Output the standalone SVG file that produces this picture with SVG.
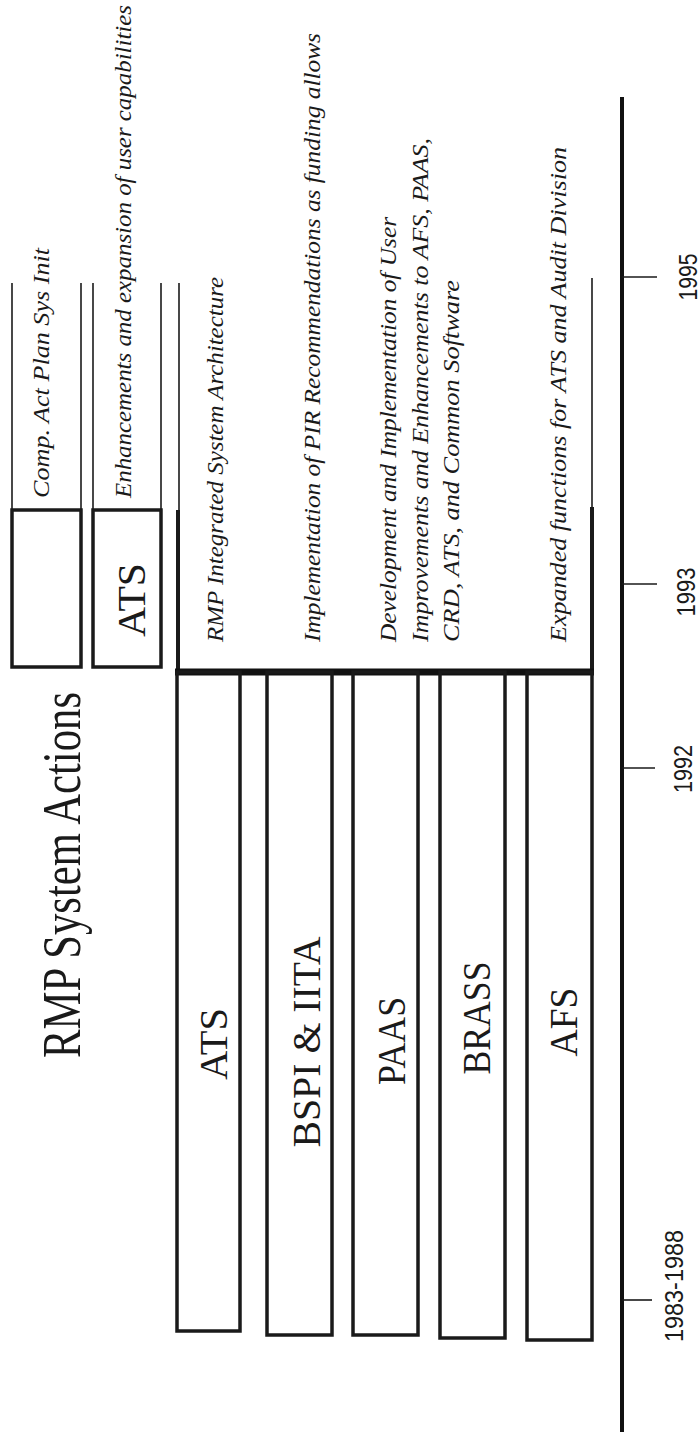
<svg xmlns="http://www.w3.org/2000/svg" width="700" height="1444" viewBox="0 0 700 1444">
<style>
.bg{fill:#ffffff}
.box{fill:none;stroke:#1a1a1a;stroke-width:3.5}
.thin{fill:none;stroke:#1a1a1a;stroke-width:1.6}
.thick{fill:none;stroke:#1a1a1a;stroke-width:4}
.base{fill:none;stroke:#111;stroke-width:7}
.axis{fill:none;stroke:#111;stroke-width:4}
.tick{fill:none;stroke:#1a1a1a;stroke-width:1.6}
.title{font-family:"Liberation Serif","Times New Roman",serif;font-size:55px;fill:#1a1a1a}
.lbl{font-family:"Liberation Serif","Times New Roman",serif;font-size:40px;fill:#1a1a1a}
.it{font-family:"Liberation Serif","Times New Roman",serif;font-size:24px;font-style:italic;fill:#1a1a1a}
.yr{font-family:"Liberation Sans",Arial,sans-serif;font-size:25px;fill:#1a1a1a}
</style>
<rect class="bg" x="0" y="0" width="700" height="1444"/>

<g id="title">
<text class="title" transform="translate(80,1058) rotate(-90)" textLength="366" lengthAdjust="spacingAndGlyphs">RMP System Actions</text>
</g>

<g id="row-comp">
<line class="thin" x1="12" y1="283" x2="12" y2="510"/>
<line class="thin" x1="81" y1="283" x2="81" y2="510"/>
<rect class="box" x="12" y="510" width="69" height="157"/>
<text class="it" transform="translate(49,498) rotate(-90)" textLength="250" lengthAdjust="spacingAndGlyphs">Comp. Act Plan Sys Init</text>
</g>

<g id="row-ats-enh">
<line class="thin" x1="93" y1="283" x2="93" y2="510"/>
<line class="thin" x1="161" y1="283" x2="161" y2="510"/>
<rect class="box" x="93" y="510" width="68" height="157"/>
<text class="lbl" transform="translate(145,600) rotate(-90)" text-anchor="middle" textLength="74" lengthAdjust="spacingAndGlyphs">ATS</text>
<text class="it" transform="translate(131,498) rotate(-90)" textLength="493" lengthAdjust="spacingAndGlyphs">Enhancements and expansion of user capabilities</text>
</g>

<g id="integrated">
<line class="thin" x1="179" y1="283" x2="179" y2="510"/>
<line class="thin" x1="592" y1="278" x2="592" y2="507"/>
<line class="thick" x1="178" y1="510" x2="178" y2="672"/>
<line class="thick" x1="592" y1="507" x2="592" y2="672"/>
<line class="base" x1="175" y1="672" x2="594" y2="672"/>
<text class="it" transform="translate(223,642) rotate(-90)" textLength="365" lengthAdjust="spacingAndGlyphs">RMP Integrated System Architecture</text>
<text class="it" transform="translate(320,642) rotate(-90)" textLength="609" lengthAdjust="spacingAndGlyphs">Implementation of PIR Recommendations as funding allows</text>
<text class="it" transform="translate(396,642) rotate(-90)" textLength="425" lengthAdjust="spacingAndGlyphs">Development and Implementation of User</text>
<text class="it" transform="translate(428,642) rotate(-90)" textLength="504" lengthAdjust="spacingAndGlyphs">Improvements and Enhancements to AFS, PAAS,</text>
<text class="it" transform="translate(459,642) rotate(-90)" textLength="362" lengthAdjust="spacingAndGlyphs">CRD, ATS, and Common Software</text>
<text class="it" transform="translate(566,642) rotate(-90)" textLength="495" lengthAdjust="spacingAndGlyphs">Expanded functions for ATS and Audit Division</text>
</g>

<g id="bar-ats">
<rect class="box" x="177" y="672" width="63" height="659"/>
<text class="lbl" transform="translate(227,1044) rotate(-90)" text-anchor="middle" textLength="72" lengthAdjust="spacingAndGlyphs">ATS</text>
</g>
<g id="bar-bspi">
<rect class="box" x="267" y="672" width="65" height="663"/>
<text class="lbl" transform="translate(320,1042) rotate(-90)" text-anchor="middle" textLength="211" lengthAdjust="spacingAndGlyphs">BSPI &amp; IITA</text>
</g>
<g id="bar-paas">
<rect class="box" x="353" y="672" width="65" height="663"/>
<text class="lbl" transform="translate(405,1041) rotate(-90)" text-anchor="middle" textLength="88" lengthAdjust="spacingAndGlyphs">PAAS</text>
</g>
<g id="bar-brass">
<rect class="box" x="440" y="672" width="65" height="666"/>
<text class="lbl" transform="translate(490,1018) rotate(-90)" text-anchor="middle" textLength="113" lengthAdjust="spacingAndGlyphs">BRASS</text>
</g>
<g id="bar-afs">
<rect class="box" x="527" y="672" width="65" height="668"/>
<text class="lbl" transform="translate(577,1022) rotate(-90)" text-anchor="middle" textLength="69" lengthAdjust="spacingAndGlyphs">AFS</text>
</g>

<g id="connectors">
<line class="axis" x1="622" y1="97" x2="622" y2="1432"/>
<line class="tick" x1="622" y1="277" x2="657" y2="277"/>
<line class="tick" x1="622" y1="584" x2="657" y2="584"/>
<line class="tick" x1="622" y1="768" x2="655" y2="768"/>
<line class="tick" x1="622" y1="1300" x2="652" y2="1300"/>
</g>

<g id="years">
<text class="yr" transform="translate(697,277) rotate(-90)" text-anchor="middle" textLength="47" lengthAdjust="spacingAndGlyphs">1995</text>
<text class="yr" transform="translate(695,592) rotate(-90)" text-anchor="middle" textLength="49" lengthAdjust="spacingAndGlyphs">1993</text>
<text class="yr" transform="translate(692,769) rotate(-90)" text-anchor="middle" textLength="48" lengthAdjust="spacingAndGlyphs">1992</text>
<text class="yr" transform="translate(683,1286) rotate(-90)" text-anchor="middle" textLength="112" lengthAdjust="spacingAndGlyphs">1983-1988</text>
</g>
</svg>
